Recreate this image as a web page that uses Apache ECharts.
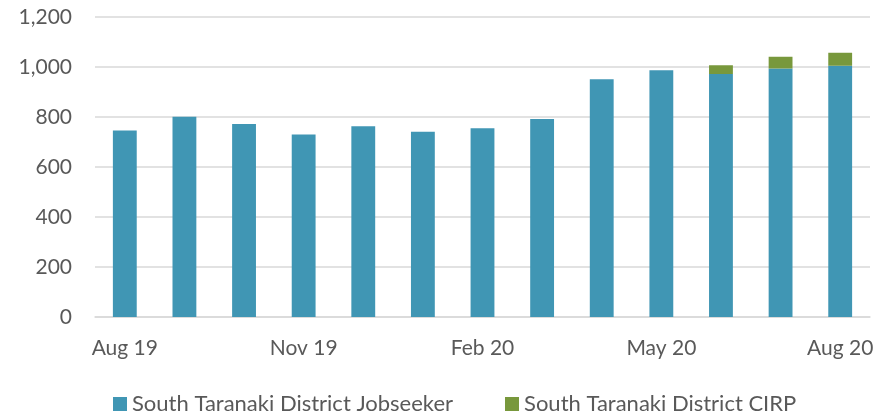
<!DOCTYPE html>
<html>
<head>
<meta charset="utf-8">
<script src="https://cdn.jsdelivr.net/npm/echarts@6/dist/echarts.min.js"></script>
<style>
  html, body { margin: 0; padding: 0; background: #fff; }
  #chart { width: 893px; height: 411px; }
</style>
</head>
<body>
<div id="chart"></div>
<script>
  // months shown on the x axis (label every 3rd)
  const months = ["Aug 19", "Sep 19", "Oct 19", "Nov 19", "Dec 19", "Jan 20", "Feb 20",
                  "Mar 20", "Apr 20", "May 20", "Jun 20", "Jul 20", "Aug 20"];
  const jobseeker = [746, 801, 772, 730, 763, 741, 755, 792, 951, 987, 972, 994, 1005];
  const cirp = [0, 0, 0, 0, 0, 0, 0, 0, 0, 0, 35, 47, 52];

  const textColor = "#595959";
  const font = "Lato, 'Open Sans', sans-serif";

  let chart = echarts.init(document.getElementById("chart"));

  let option = {
    animation: false,
    grid: { left: 95, right: 23, top: 17, bottom: 94 },
    legend: {
      top: 388,
      left: 108,
      itemWidth: 14,
      itemHeight: 14,
      itemGap: 52,
      icon: "rect",
      textStyle: { color: textColor, fontSize: 22, fontFamily: font },
      data: ["South Taranaki District Jobseeker", "South Taranaki District CIRP"]
    },
    xAxis: {
      type: "category",
      data: months,
      axisTick: { show: false },
      axisLine: { lineStyle: { color: "#d9d9d9", width: 1.5 } },
      axisLabel: {
        interval: 2,
        color: textColor,
        fontSize: 21,
        fontFamily: font,
        margin: 21
      }
    },
    yAxis: {
      type: "value",
      min: 0,
      max: 1200,
      interval: 200,
      axisLabel: {
        color: textColor,
        fontSize: 21,
        fontFamily: font,
        margin: 23,
        formatter: v => v.toLocaleString("en-US")
      },
      splitLine: { lineStyle: { color: "#d9d9d9", width: 1.5 } }
    },
    series: [
      {
        name: "South Taranaki District Jobseeker",
        type: "bar",
        stack: "total",
        data: jobseeker,
        barWidth: "40%",
        itemStyle: { color: "#4096b4" }
      },
      {
        name: "South Taranaki District CIRP",
        type: "bar",
        stack: "total",
        data: cirp,
        barWidth: "40%",
        itemStyle: { color: "#78983c" }
      }
    ]
  };

  chart.setOption(option);
</script>
</body>
</html>
